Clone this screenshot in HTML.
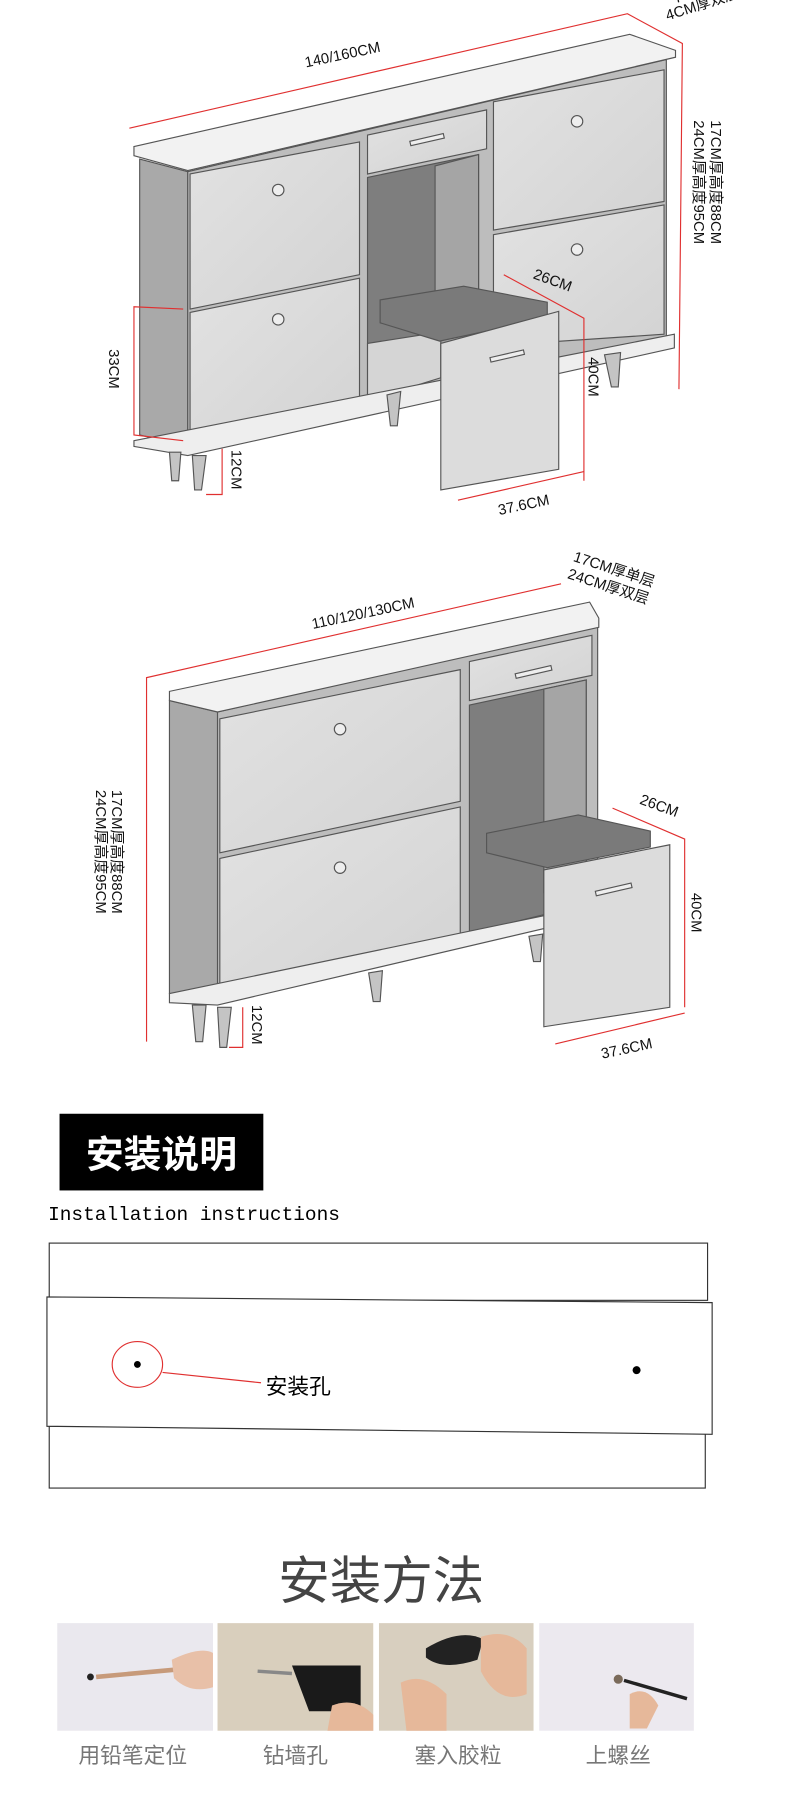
<!DOCTYPE html>
<html><head><meta charset="utf-8"><style>
html,body{margin:0;padding:0;background:#fff}
svg{display:block}
text{font-family:"Liberation Sans","Noto Sans CJK SC",sans-serif}
</style></head><body>
<svg width="790" height="1812" viewBox="0 0 690 1583" preserveAspectRatio="none" xmlns="http://www.w3.org/2000/svg">
<defs>
<linearGradient id="door" x1="0" y1="0" x2="1" y2="1"><stop offset="0" stop-color="#e2e2e2"/><stop offset="1" stop-color="#d3d3d3"/></linearGradient>
</defs>
<g stroke="#555" stroke-width="1">
<!-- Cabinet 1 -->
<polygon points="122,139 164,150 164,390 122,380" fill="#a9a9a9"/>
<polygon points="164,150 582,52 582,300 164,390" fill="#bdbdbd"/>
<polygon points="117,128 550,30 590,44 590,50 164,149 117,136" fill="#f2f2f2"/>
<polygon points="166,152 314,124 314,240 166,270" fill="url(#door)"/>
<polygon points="166,273 314,243 314,354 166,386" fill="url(#door)"/>
<polygon points="431,89 580,61 580,176 431,201" fill="url(#door)"/>
<polygon points="431,205 580,179 580,292 431,302" fill="url(#door)"/>
<polygon points="321,118 425,96 425,130 321,152" fill="url(#door)"/>
<polygon points="321,155 418,135 418,318 321,348" fill="#7e7e7e"/>
<polygon points="380,145 418,135 418,318 380,300" fill="#a5a5a5"/>
<polygon points="321,300 385,290 385,330 321,350" fill="#d5d5d5"/>
<polygon points="117,385 589,292 589,304 164,398 117,390" fill="#eee"/>
<polygon points="148,395 158,395 156,420 150,420" fill="#c4c4c4"/>
<polygon points="168,398 180,398 176,428 170,428" fill="#c4c4c4"/>
<polygon points="338,345 350,342 347,372 341,372" fill="#c4c4c4"/>
<polygon points="528,310 542,308 540,338 534,338" fill="#c4c4c4"/>
<polygon points="332,262 405,250 478,264 478,278 384,298 332,282" fill="#7a7a7a"/>
<polygon points="385,300 488,272 488,410 385,428" fill="#dcdcdc"/>
<circle cx="243" cy="166" r="5" fill="#eee"/><circle cx="243" cy="279" r="5" fill="#eee"/>
<circle cx="504" cy="106" r="5" fill="#eee"/><circle cx="504" cy="218" r="5" fill="#eee"/>
<rect x="358" y="120" width="30" height="4" fill="#eee" transform="rotate(-13 373 122)"/>
<rect x="428" y="309" width="30" height="4" fill="#eee" transform="rotate(-13 443 311)"/>
<!-- Cabinet 2 -->
<polygon points="148,612 190,622 190,872 148,868" fill="#a9a9a9"/>
<polygon points="190,622 522,546 522,790 190,872" fill="#bdbdbd"/>
<polygon points="148,604 515,526 523,540 523,548 190,622 148,612" fill="#f2f2f2"/>
<polygon points="192,628 402,585 402,700 192,745" fill="url(#door)"/>
<polygon points="192,750 402,705 402,820 192,862" fill="url(#door)"/>
<polygon points="410,578 517,555 517,590 410,612" fill="url(#door)"/>
<polygon points="410,616 512,594 512,790 410,815" fill="#7e7e7e"/>
<polygon points="475,602 512,594 512,790 475,780" fill="#a5a5a5"/>
<polygon points="148,868 523,790 523,800 190,878 148,876" fill="#eee"/>
<polygon points="168,878 180,878 177,910 171,910" fill="#c4c4c4"/>
<polygon points="190,880 202,880 198,915 192,915" fill="#c4c4c4"/>
<polygon points="322,850 334,848 332,875 326,875" fill="#c4c4c4"/>
<polygon points="462,818 474,816 472,840 466,840" fill="#c4c4c4"/>
<polygon points="425,728 505,712 568,726 568,740 478,758 425,745" fill="#7a7a7a"/>
<polygon points="475,760 585,738 585,880 475,897" fill="#dcdcdc"/>
<circle cx="297" cy="637" r="5" fill="#eee"/><circle cx="297" cy="758" r="5" fill="#eee"/>
<rect x="450" y="585" width="32" height="4" fill="#eee" transform="rotate(-13 466 587)"/>
<rect x="520" y="775" width="32" height="4" fill="#eee" transform="rotate(-13 536 777)"/>
</g>
<g stroke="#e03030" stroke-width="1" fill="none">
<polyline points="113,112 548,12 596,38 593,340"/>
<polyline points="160,270 117,268 117,380 160,385"/>
<polyline points="180,432 194,432 194,392"/>
<polyline points="440,240 510,278 510,420"/>
<line x1="400" y1="437" x2="510" y2="412"/>
<polyline points="128,910 128,592 490,510"/>
<polyline points="200,915 212,915 212,880"/>
<polyline points="535,706 598,733 598,880"/>
<line x1="485" y1="912" x2="598" y2="885"/>
</g>
<g fill="#111" font-size="13">
<text x="300" y="52" text-anchor="middle" transform="rotate(-12 300 52)">140/160CM</text>
<text transform="translate(606,105) rotate(90)">24CM厚高度95CM</text>
<text transform="translate(621,105) rotate(90)">17CM厚高度88CM</text>
<text transform="translate(583,18) rotate(-18)">4CM厚双层</text>
<text transform="translate(590,3) rotate(-18)">7CM厚单层</text>
<text transform="translate(95,305) rotate(90)">33CM</text>
<text transform="translate(202,393) rotate(90)">12CM</text>
<text transform="translate(465,243) rotate(20)">26CM</text>
<text transform="translate(514,312) rotate(90)">40CM</text>
<text transform="translate(436,450) rotate(-12)">37.6CM</text>
<text x="318" y="540" text-anchor="middle" transform="rotate(-12 318 540)">110/120/130CM</text>
<text transform="translate(500,490) rotate(18)">17CM厚单层</text>
<text transform="translate(495,505) rotate(18)">24CM厚双层</text>
<text transform="translate(98,690) rotate(90)">17CM厚高度88CM</text>
<text transform="translate(84,690) rotate(90)">24CM厚高度95CM</text>
<text transform="translate(220,878) rotate(90)">12CM</text>
<text transform="translate(558,702) rotate(20)">26CM</text>
<text transform="translate(604,780) rotate(90)">40CM</text>
<text transform="translate(526,925) rotate(-12)">37.6CM</text>
</g>
<rect x="52" y="973" width="178" height="67" fill="#000"/>
<text x="141" y="1020" fill="#fff" font-size="33" text-anchor="middle" font-weight="bold">安装说明</text>
<text x="42" y="1066" font-size="17" style="font-family:'Liberation Mono',monospace" fill="#000">Installation instructions</text>
<g stroke="#333" stroke-width="1" fill="#fff">
<rect x="43" y="1086" width="575" height="50"/>
<rect x="43" y="1246" width="573" height="54"/>
<polygon points="41,1133 622,1138 622,1253 41,1246"/>
</g>
<ellipse cx="120" cy="1192" rx="22" ry="20" fill="none" stroke="#e03030"/>
<circle cx="120" cy="1192" r="3" fill="#000"/>
<line x1="142" y1="1199" x2="228" y2="1208" stroke="#e03030"/>
<text x="232" y="1218" font-size="19" fill="#000">安装孔</text>
<circle cx="556" cy="1197" r="3.5" fill="#000"/>
<text x="333" y="1397" font-size="45" fill="#444" text-anchor="middle">安装方法</text>
<rect x="50" y="1418" width="136" height="94" fill="#eae8ee"/>
<rect x="190" y="1418" width="136" height="94" fill="#d9cfbd"/>
<rect x="331" y="1418" width="135" height="94" fill="#d8cfbf"/>
<rect x="471" y="1418" width="135" height="94" fill="#ece9ef"/>
<circle cx="79" cy="1465" r="3" fill="#222"/>
<line x1="84" y1="1465" x2="160" y2="1458" stroke="#c79a7a" stroke-width="4"/>
<path d="M150 1450 q25 -12 36 -6 v30 q-20 6 -34 -8z" fill="#e8c0a8"/>
<path d="M255 1455 h60 v40 h-45z" fill="#1a1a1a"/><line x1="225" y1="1460" x2="255" y2="1462" stroke="#888" stroke-width="3"/>
<path d="M290 1490 q20 -8 36 8 v14 h-40z" fill="#e6b89a"/>
<path d="M372 1440 q30 -18 50 -8 l-5 18 q-30 10 -45 -2z" fill="#222"/>
<path d="M420 1430 q25 -8 40 10 v40 q-25 10 -40 -20z" fill="#e6b89a"/>
<path d="M350 1470 q20 -10 40 10 v32 h-35z" fill="#e6b89a"/>
<circle cx="540" cy="1467" r="4" fill="#7a6a5a"/>
<line x1="545" y1="1468" x2="600" y2="1484" stroke="#222" stroke-width="3"/>
<path d="M550 1480 q15 -8 25 10 l-10 20 h-15z" fill="#e6b89a"/>
<g font-size="19" fill="#777" text-anchor="middle">
<text x="116" y="1540">用铅笔定位</text>
<text x="258" y="1540">钻墙孔</text>
<text x="400" y="1540">塞入胶粒</text>
<text x="540" y="1540">上螺丝</text>
</g>
</svg>
</body></html>
